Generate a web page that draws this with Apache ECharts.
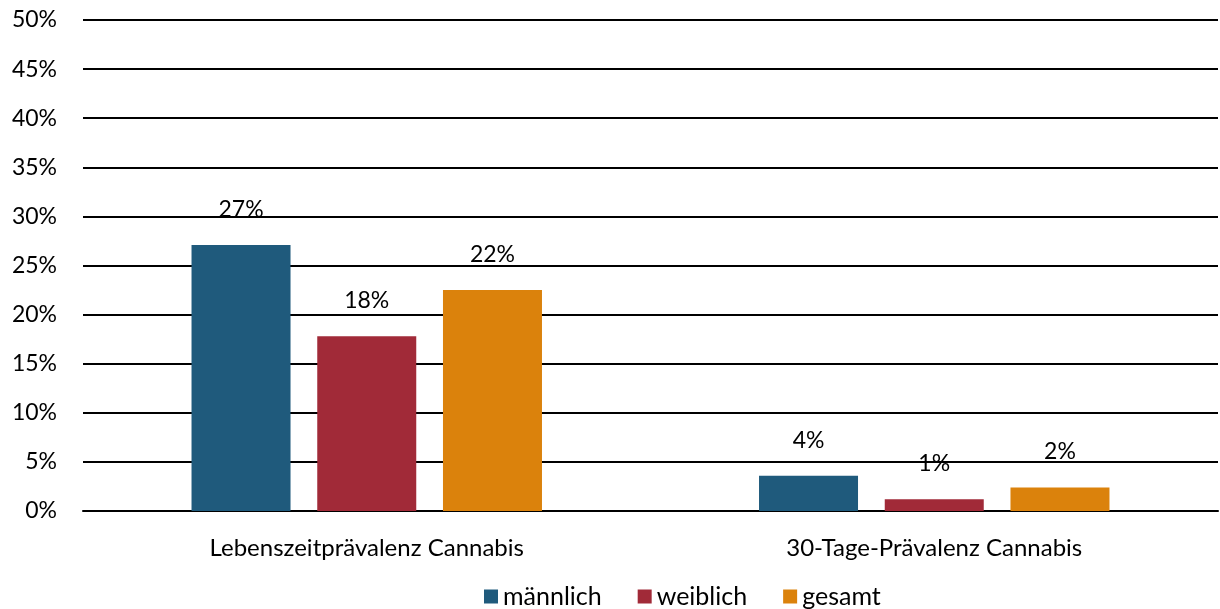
<!DOCTYPE html>
<html><head><meta charset="utf-8">
<script src="https://cdn.jsdelivr.net/npm/echarts@6/dist/echarts.min.js"></script>
<style>html,body{margin:0;padding:0;background:#fff}#c{width:1220px;height:609px}</style>
</head><body><div id="c"></div>
<script>
const categories = ['Lebenszeitprävalenz Cannabis', '30-Tage-Prävalenz Cannabis'];
const seriesNames = ['männlich', 'weiblich', 'gesamt'];
const maennlich = [27.1, 3.6];
const weiblich = [17.8, 1.2];
const gesamt = [22.5, 2.4];
const labelsMaennlich = ['27%', '4%'];
const labelsWeiblich = ['18%', '1%'];
const labelsGesamt = ['22%', '2%'];
const yTicks = [0, 5, 10, 15, 20, 25, 30, 35, 40, 45, 50];

const colors = ['#1F5A7C', '#A12A38', '#DB820C'];
const font = 'Lato, "Open Sans", sans-serif';
function mk(name, data, labels, color) {
  return {
    name, type: 'bar', data, barWidth: 99, barGap: '27%',
    itemStyle: { color },
    label: { show: true, position: 'top', distance: 24, color: '#000', fontSize: 23, fontFamily: font,
      formatter: p => labels[p.dataIndex] }
  };
}
const chart = echarts.init(document.getElementById('c'));
chart.setOption({
  animation: false,
  grid: { left: 83, right: 2, top: 20, bottom: 98 },
  legend: { bottom: -5, left: 479, itemWidth: 14, itemHeight: 14, itemGap: 36, icon: 'rect',
    textStyle: { fontSize: 25, fontFamily: font, color: '#000' } },
  xAxis: { type: 'category', data: categories,
    axisLine: { lineStyle: { color: '#000', width: 2 } }, axisTick: { show: false },
    axisLabel: { margin: 25, fontSize: 24, fontFamily: font, color: '#000' } },
  yAxis: { type: 'value', min: 0, max: 50, interval: 5,
    axisLine: { show: false }, axisTick: { show: false },
    splitLine: { lineStyle: { color: '#000', width: 2 } },
    axisLabel: { margin: 26, fontSize: 23, fontFamily: font, color: '#000',
      formatter: v => yTicks.includes(v) ? v + '%' : '' } },
  series: [
    mk(seriesNames[0], maennlich, labelsMaennlich, colors[0]),
    mk(seriesNames[1], weiblich, labelsWeiblich, colors[1]),
    mk(seriesNames[2], gesamt, labelsGesamt, colors[2])
  ]
});
</script></body></html>
